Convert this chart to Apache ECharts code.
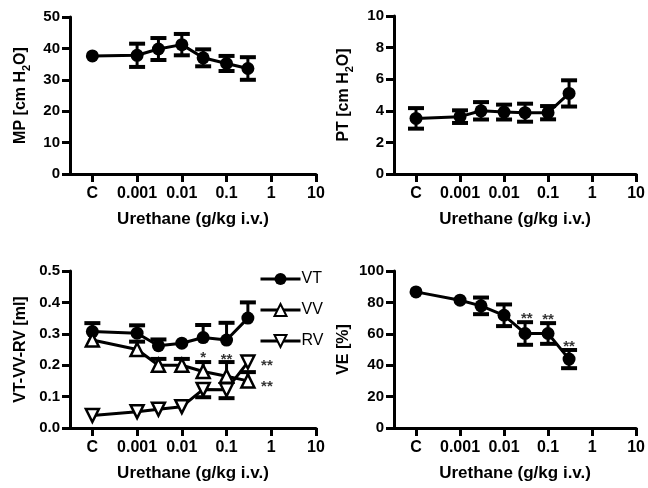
<!DOCTYPE html>
<html><head><meta charset="utf-8">
<script src="https://cdn.jsdelivr.net/npm/echarts@6/dist/echarts.min.js"></script>
<style>html,body{margin:0;padding:0;background:#fff}#c{width:648px;height:488px}</style>
</head><body><div id="c"></div>
<script>
// ---------------- data ----------------
const doses = ['C', 0.001, 0.003, 0.01, 0.03, 0.1, 0.3];
const xTickValues = [-4, -3, -2, -1, 0, 1];
const xTickLabels = ['C', '0.001', '0.01', '0.1', '1', '10'];
const xTitle = 'Urethane (g/kg i.v.)';

const mpMean = [37.6, 37.8, 39.8, 41.2, 37.0, 35.2, 33.6];
const mpSem  = [0, 3.7, 3.5, 3.4, 2.7, 2.4, 3.6];

const ptMean = [3.52, 3.63, 4.0, 3.92, 3.88, 3.88, 5.1];
const ptSem  = [0.65, 0.4, 0.55, 0.47, 0.57, 0.42, 0.83];

const vtMean  = [0.307, 0.302, 0.262, 0.27, 0.288, 0.28, 0.35];
const vtSemUp = [0.027, 0.025, 0.02, 0, 0.04, 0.055, 0.05];
const vvMean  = [0.28, 0.25, 0.20, 0.20, 0.18, 0.165, 0.15];
const vvSemUp = [0, 0.025, 0.02, 0.02, 0.03, 0.045, 0.028];
const rvMean    = [0.04, 0.052, 0.06, 0.068, 0.123, 0.122, 0.21];
const rvSemDown = [0, 0, 0, 0, 0.025, 0.027, 0];

const veMean = [86.7, 81.4, 77.8, 71.8, 60.2, 60.2, 43.9];
const veSem  = [0, 0, 5.3, 6.9, 7.2, 6.6, 5.8];

// significance marks: dose, y value (glyph centre), text
const volStarDose = [0.03, 0.1, 0.8, 0.8];
const volStarY    = [0.232, 0.226, 0.206, 0.139];
const volStarText = ['*', '**', '**', '**'];
const veStarDose  = [0.033, 0.1, 0.3];
const veStarY     = [71.4, 70.8, 53.4];
const veStarText  = ['**', '**', '**'];

// ---------------- helpers ----------------
const FONT = "'Liberation Sans', Arial, sans-serif";
const xOf = d => d === 'C' ? -4 : Math.log10(d);
const xs = doses.map(xOf);

function lineData(mean) { return mean.map((m, i) => [xs[i], m]); }
function errData(mean, up, down) {
  return mean.map((m, i) => [xs[i], m, m - (down ? down[i] : 0), m + (up ? up[i] : 0)]);
}
function starData(dose, y, txt) {
  return dose.map((d, i) => ({ value: [xOf(d), y[i]], name: txt[i] }));
}
function renderErr(params, api) {
  const x = api.value(0), m = api.value(1), lo = api.value(2), hi = api.value(3);
  const pl = api.coord([x, lo]), ph = api.coord([x, hi]);
  const half = 8;
  const children = [];
  if (hi > m || lo < m) {
    children.push({ type: 'line', shape: { x1: pl[0], y1: pl[1], x2: ph[0], y2: ph[1] }, style: { stroke: '#000', lineWidth: 3 } });
  }
  if (hi > m) children.push({ type: 'line', shape: { x1: ph[0] - half, y1: ph[1], x2: ph[0] + half, y2: ph[1] }, style: { stroke: '#000', lineWidth: 4 } });
  if (lo < m) children.push({ type: 'line', shape: { x1: pl[0] - half, y1: pl[1], x2: pl[0] + half, y2: pl[1] }, style: { stroke: '#000', lineWidth: 4 } });
  return { type: 'group', children };
}

const grids = [
  { left: 70, top: 17, width: 246, height: 157 },
  { left: 394, top: 16, width: 245, height: 158 },
  { left: 70, top: 271, width: 246, height: 157 },
  { left: 394, top: 271, width: 245, height: 157 }
];

const axisLine = { show: true, onZero: false, lineStyle: { color: '#000', width: 3 } };
const axisTick = { show: true, length: 8, lineStyle: { color: '#000', width: 3 } };

function xAxis(gi) {
  return {
    type: 'value', gridIndex: gi, min: -4.5, max: 1,
    axisLine, axisTick: Object.assign({ customValues: xTickValues }, axisTick),
    splitLine: { show: false },
    axisLabel: {
      customValues: xTickValues, margin: 12, color: '#000', fontFamily: FONT, fontWeight: 'bold', fontSize: 16,
      formatter: v => xTickLabels[xTickValues.indexOf(Math.round(v))]
    },
    name: xTitle, nameLocation: 'middle', nameGap: 37,
    nameTextStyle: { color: '#000', fontFamily: FONT, fontWeight: 'bold', fontSize: 17 }
  };
}
const subRich = {
  a: { fontFamily: FONT, fontWeight: 'bold', fontSize: 16, lineHeight: 22, verticalAlign: 'middle', color: '#000' },
  s: { fontFamily: FONT, fontWeight: 'bold', fontSize: 11, lineHeight: 11, verticalAlign: 'bottom', color: '#000' }
};
function yAxis(gi, min, max, interval, name, dec, gap) {
  return {
    type: 'value', gridIndex: gi, min, max, interval,
    axisLine, axisTick, splitLine: { show: false },
    axisLabel: { margin: 10, color: '#000', fontFamily: FONT, fontWeight: 'bold', fontSize: 15,
      formatter: v => v.toFixed(dec) },
    name, nameLocation: 'middle', nameGap: gap, nameRotate: 90,
    nameTextStyle: { color: '#000', fontFamily: FONT, fontWeight: 'bold', fontSize: 16, rich: subRich }
  };
}

function lineSeries(name, gi, mean, symbol, extra) {
  return Object.assign({
    name, type: 'line', xAxisIndex: gi, yAxisIndex: gi, data: lineData(mean),
    symbol, symbolSize: 13, lineStyle: { color: '#000', width: 3 },
    itemStyle: { color: '#000' }, z: 5, animation: false
  }, extra || {});
}
function errSeries(gi, data) {
  return { type: 'custom', xAxisIndex: gi, yAxisIndex: gi, data, renderItem: renderErr,
    encode: { x: 0, y: [1, 2, 3] }, z: 3, animation: false, silent: true };
}
function starSeries(gi, data) {
  return { type: 'scatter', xAxisIndex: gi, yAxisIndex: gi, data, symbolSize: 1,
    itemStyle: { color: 'rgba(0,0,0,0)' }, z: 6, animation: false, silent: true,
    label: { show: true, position: 'inside', offset: [0, 3], formatter: '{b}', color: '#000',
      fontFamily: FONT, fontSize: 15, fontWeight: 'bold' } };
}
const hollow = { itemStyle: { color: '#fff', borderColor: '#000', borderWidth: 2.5 } };

const option = {
  animation: false,
  backgroundColor: '#fff',
  grid: grids,
  xAxis: [xAxis(0), xAxis(1), xAxis(2), xAxis(3)],
  yAxis: [
    yAxis(0, 0, 50, 10, '{a|MP [cm H}{s|2}{a|O]}', 0, 38),
    yAxis(1, 0, 10, 2, '{a|PT [cm H}{s|2}{a|O]}', 0, 39),
    yAxis(2, 0, 0.5, 0.1, '{a|VT-VV-RV [ml]}', 1, 38),
    yAxis(3, 0, 100, 20, '{a|VE [%]}', 0, 39)
  ],
  legend: {
    data: ['VT', 'VV', 'RV'], orient: 'vertical', left: 254, top: 266,
    itemWidth: 40, itemHeight: 15, itemGap: 15,
    lineStyle: { width: 3, color: '#000' },
    textStyle: { color: '#000', fontFamily: FONT, fontSize: 16, padding: [0, 0, 0, -4] }
  },
  series: [
    errSeries(0, errData(mpMean, mpSem, mpSem)),
    lineSeries('MP', 0, mpMean, 'circle'),
    errSeries(1, errData(ptMean, ptSem, ptSem)),
    lineSeries('PT', 1, ptMean, 'circle'),
    errSeries(2, errData(vtMean, vtSemUp, null)),
    errSeries(2, errData(vvMean, vvSemUp, null)),
    errSeries(2, errData(rvMean, null, rvSemDown)),
    lineSeries('VT', 2, vtMean, 'circle'),
    lineSeries('VV', 2, vvMean, 'triangle', hollow),
    lineSeries('RV', 2, rvMean, 'triangle', Object.assign({ symbolRotate: 180 }, hollow)),
    starSeries(2, starData(volStarDose, volStarY, volStarText)),
    errSeries(3, errData(veMean, veSem, veSem)),
    lineSeries('VE', 3, veMean, 'circle'),
    starSeries(3, starData(veStarDose, veStarY, veStarText))
  ]
};
const chart = echarts.init(document.getElementById('c'), null, { renderer: 'canvas' });
chart.setOption(option);
</script></body></html>
